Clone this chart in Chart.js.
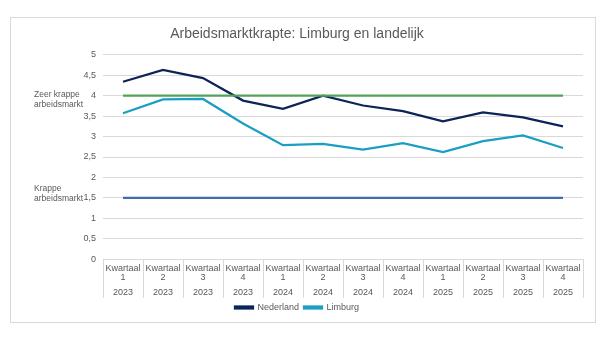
<!DOCTYPE html>
<html>
<head>
<meta charset="utf-8">
<script src="https://cdn.jsdelivr.net/npm/chart.js@4"></script>
<style>
	body { margin: 0; background: #fff; }
	#box { position: absolute; left: 10px; top: 17px; width: 584px; height: 304px; border: 1px solid #d9d9d9; }
	#chart { display: block; }
</style>
</head>
<body>
<div id="box"><canvas id="chart" width="584" height="304"></canvas></div>
<script>
// gegevens
var kwartalen = ["1", "2", "3", "4", "1", "2", "3", "4", "1", "2", "3", "4"];
var jaren = ["2023", "2023", "2023", "2023", "2024", "2024", "2024", "2024", "2025", "2025", "2025", "2025"];
var nederland = [4.34, 4.63, 4.43, 3.88, 3.68, 4.0, 3.76, 3.62, 3.37, 3.59, 3.47, 3.25];
var limburg = [3.57, 3.91, 3.92, 3.32, 2.79, 2.82, 2.68, 2.84, 2.62, 2.89, 3.03, 2.72];
var zeerKrapGrens = [4, 4, 4, 4, 4, 4, 4, 4, 4, 4, 4, 4];
var krapGrens = [1.5, 1.5, 1.5, 1.5, 1.5, 1.5, 1.5, 1.5, 1.5, 1.5, 1.5, 1.5];
var grensLabels = [
	{ value: 4, lines: ["Zeer krappe", "arbeidsmarkt"], shift: -1 },
	{ value: 1.5, lines: ["Krappe", "arbeidsmarkt"], shift: -9 },
];

var grijs = "#595959";
var font = "'Liberation Sans', Arial, sans-serif";

var labels = kwartalen.map(function (k) {
	return ["Kwartaal", k];
});

// tekst links naast de grenslijnen
var grensPlugin = {
	id: "grens",
	afterDraw: function (chart) {
		var ctx = chart.ctx;
		var y = chart.scales.y;
		ctx.save();
		ctx.font = "8.5px " + font;
		ctx.fillStyle = grijs;
		ctx.textAlign = "left";
		ctx.textBaseline = "middle";
		grensLabels.forEach(function (g) {
			var py = y.getPixelForValue(g.value) + g.shift;
			g.lines.forEach(function (t, i) {
				ctx.fillText(t, 23, py + i * 10);
			});
		});
		ctx.restore();
	},
};

// scheidingslijnen tussen de categorieen onder de as
var scheidingPlugin = {
	id: "scheiding",
	afterDraw: function (chart) {
		var ctx = chart.ctx;
		var x = chart.scales.x;
		var x2 = chart.scales.x2;
		var step = x.getPixelForValue(1) - x.getPixelForValue(0);
		ctx.save();
		ctx.strokeStyle = "#d9d9d9";
		ctx.lineWidth = 1;
		for (var i = 0; i <= kwartalen.length; i++) {
			var px = Math.round(x.getPixelForValue(i) - step / 2) + 0.5;
			ctx.beginPath();
			ctx.moveTo(px, chart.chartArea.bottom);
			ctx.lineTo(px, x2.bottom);
			ctx.stroke();
		}
		ctx.restore();
	},
};

var grafico = new Chart(document.getElementById("chart"), {
	type: "line",
	data: {
		labels: labels,
		datasets: [
			{
				label: "Nederland",
				data: nederland,
				borderColor: "#0c2457",
				backgroundColor: "#0c2457",
				borderWidth: 2.25,
				pointRadius: 0,
				order: 2,
			},
			{
				label: "Limburg",
				data: limburg,
				borderColor: "#1a9fc3",
				backgroundColor: "#1a9fc3",
				borderWidth: 2.25,
				pointRadius: 0,
				order: 3,
			},
			{
				label: "Zeer krappe arbeidsmarkt",
				data: zeerKrapGrens,
				borderColor: "#52a35a",
				borderWidth: 2.25,
				pointRadius: 0,
				order: 0,
			},
			{
				label: "Krappe arbeidsmarkt",
				data: krapGrens,
				borderColor: "#3f6db0",
				borderWidth: 2.25,
				pointRadius: 0,
				order: 1,
			},
		],
	},
	options: {
		responsive: false,
		animation: false,
		layout: { padding: { left: 0, right: 12, top: 0, bottom: 0 } },
		plugins: {
			title: {
				display: true,
				text: "Arbeidsmarktkrapte: Limburg en landelijk",
				color: grijs,
				font: { family: font, size: 14, weight: "normal" },
				padding: { top: 8, bottom: 12 },
			},
			legend: {
				position: "bottom",
				labels: {
					color: grijs,
					font: { family: font, size: 9 },
					boxWidth: 18,
					boxHeight: 2,
					padding: 5,
					filter: function (item) {
						return item.datasetIndex < 2;
					},
				},
			},
			tooltip: { enabled: false },
		},
		scales: {
			y: {
				min: 0,
				max: 5,
				afterFit: function (scale) {
					scale.width = 92;
				},
				ticks: {
					stepSize: 0.5,
					color: grijs,
					padding: 7,
					font: { family: font, size: 9 },
					callback: function (v) {
						return String(v).replace(".", ",");
					},
				},
				grid: { color: "#d9d9d9", drawTicks: false },
				border: { display: false },
			},
			x: {
				offset: true,
				ticks: {
					color: grijs,
					padding: 5,
					maxRotation: 0,
					autoSkip: false,
					font: { family: font, size: 9, lineHeight: 1.0 },
				},
				grid: { display: false, drawTicks: false },
				border: { display: true, color: "#d9d9d9" },
			},
			x2: {
				type: "category",
				position: "bottom",
				labels: jaren,
				offset: true,
				ticks: {
					color: grijs,
					padding: 0,
					maxRotation: 0,
					autoSkip: false,
					font: { family: font, size: 9 },
				},
				grid: { display: false, drawTicks: false },
				border: { display: false },
			},
		},
	},
	plugins: [grensPlugin, scheidingPlugin],
});
</script>
</body>
</html>
